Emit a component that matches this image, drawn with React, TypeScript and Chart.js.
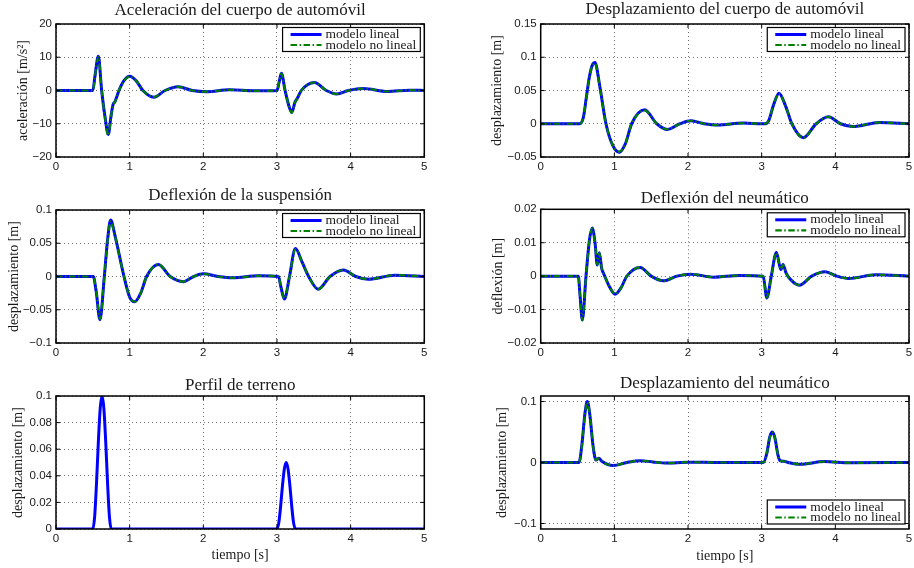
import React, { useEffect, useRef } from 'react';
import { Chart, registerables } from 'chart.js';

Chart.register(...registerables);

// ---------------- data ----------------
const X_TICKS = [0, 1, 2, 3, 4, 5];
const LEGEND_LABELS = ['modelo lineal', 'modelo no lineal'];

// Aceleración del cuerpo de automóvil [m/s²]
const ACC_T = [0, 0.5, 0.53, 0.575, 0.62, 0.665, 0.71, 0.745, 0.775, 0.8, 0.82, 0.855, 0.92, 1.0, 1.09, 1.18, 1.33, 1.48, 1.66, 1.85, 2.05, 2.35, 2.7, 3.0, 3.03, 3.06, 3.11, 3.16, 3.2, 3.245, 3.28, 3.33, 3.42, 3.51, 3.67, 3.81, 3.97, 4.17, 4.5, 4.8, 5.0];
const ACC_LIN = [0, 0, 4.5, 10.3, 0, -7.9, -13.2, -8, -4.2, -3.4, -2.2, 0, 2.9, 4.3, 2.9, 0, -2.0, 0, 1.1, 0, -0.35, 0.2, -0.1, 0, 2.6, 5.2, 0, -4.5, -6.6, -3.5, -2.2, 0, 1.8, 2.4, 0, -1.05, 0, 0.6, -0.3, 0.1, 0];
const ACC_NL = [0, 0, 4.4, 10.1, 0, -8.1, -13.5, -8.2, -4.3, -3.5, -2.3, 0, 2.8, 4.2, 2.9, 0, -2.0, 0, 1.1, 0, -0.35, 0.2, -0.1, 0, 2.6, 5.1, 0, -4.6, -6.7, -3.6, -2.3, 0, 1.8, 2.4, 0, -1.05, 0, 0.6, -0.3, 0.1, 0];
const ACC_TICKS = [-20, -10, 0, 10, 20];

// Desplazamiento del cuerpo de automóvil [m]
const BODY_T = [0, 0.53, 0.58, 0.62, 0.66, 0.7, 0.737, 0.8, 0.886, 0.98, 1.067, 1.15, 1.235, 1.41, 1.575, 1.72, 1.89, 2.04, 2.22, 2.4, 2.75, 3.0, 3.05, 3.1, 3.16, 3.235, 3.33, 3.41, 3.565, 3.74, 3.905, 4.07, 4.235, 4.6, 5.0];
const BODY_LIN = [0, 0, 0.01, 0.04, 0.07, 0.088, 0.092, 0.058, 0, -0.033, -0.043, -0.03, 0, 0.021, 0, -0.0085, 0, 0.0045, 0, -0.002, 0.001, 0, 0, 0.006, 0.028, 0.046, 0.025, 0, -0.021, 0, 0.0105, 0, -0.0042, 0.002, 0];
const BODY_NL = [0, 0, 0.01, 0.039, 0.069, 0.087, 0.091, 0.057, 0, -0.033, -0.042, -0.03, 0, 0.02, 0, -0.0085, 0, 0.0045, 0, -0.002, 0.001, 0, 0, 0.006, 0.028, 0.045, 0.025, 0, -0.021, 0, 0.0105, 0, -0.0042, 0.002, 0];
const BODY_TICKS = [-0.05, 0, 0.05, 0.1, 0.15];

// Deflexión de la suspensión [m]
const SUSP_T = [0, 0.506, 0.545, 0.597, 0.656, 0.7, 0.742, 0.8, 0.923, 1.0, 1.07, 1.15, 1.23, 1.39, 1.55, 1.73, 1.87, 2.0, 2.2, 2.4, 2.75, 3.02, 3.05, 3.1, 3.17, 3.25, 3.34, 3.43, 3.56, 3.72, 3.9, 4.07, 4.24, 4.6, 5.0];
const SUSP_LIN = [0, 0, -0.022, -0.065, 0, 0.055, 0.085, 0.062, 0, -0.031, -0.038, -0.025, 0, 0.018, 0, -0.0078, 0, 0.004, 0, -0.002, 0.001, 0, -0.014, -0.034, 0, 0.042, 0.022, 0, -0.019, 0, 0.0098, 0, -0.004, 0.002, 0];
const SUSP_NL = [0, 0, -0.021, -0.064, 0, 0.054, 0.083, 0.061, 0, -0.031, -0.038, -0.025, 0, 0.018, 0, -0.0078, 0, 0.004, 0, -0.002, 0.001, 0, -0.014, -0.033, 0, 0.041, 0.022, 0, -0.019, 0, 0.0098, 0, -0.004, 0.002, 0];
const SUSP_TICKS = [-0.1, -0.05, 0, 0.05, 0.1];

// Deflexión del neumático [m]
const TIRE_T = [0, 0.51, 0.535, 0.565, 0.615, 0.66, 0.7, 0.74, 0.768, 0.796, 0.828, 0.86, 0.93, 1.01, 1.09, 1.17, 1.35, 1.5, 1.665, 1.85, 2.03, 2.35, 2.7, 3.02, 3.07, 3.13, 3.2, 3.26, 3.29, 3.33, 3.4, 3.51, 3.68, 3.86, 4.02, 4.18, 4.55, 5.0];
const TIRE_LIN = [0, 0, -0.006, -0.0131, 0, 0.0105, 0.0144, 0.0095, 0.0033, 0.007, 0.0023, 0.0005, -0.003, -0.0054, -0.0035, 0, 0.0026, 0, -0.0014, 0, 0.0006, -0.0003, 0.0002, 0, -0.0065, 0, 0.0071, 0.002, 0.0035, 0.001, -0.0012, -0.0027, 0, 0.0013, 0, -0.0007, 0.0004, 0];
const TIRE_NL = [0, 0, -0.006, -0.0132, 0, 0.0104, 0.0143, 0.0094, 0.0034, 0.0068, 0.0024, 0.0005, -0.003, -0.0053, -0.0035, 0, 0.0026, 0, -0.0014, 0, 0.0006, -0.0003, 0.0002, 0, -0.0064, 0, 0.007, 0.0021, 0.0034, 0.001, -0.0012, -0.0027, 0, 0.0013, 0, -0.0007, 0.0004, 0];
const TIRE_TICKS = [-0.02, -0.01, 0, 0.01, 0.02];

// Perfil de terreno [m]
const ROAD_T = [0, 0.5, 0.525, 0.55, 0.575, 0.6, 0.625, 0.65, 0.675, 0.7, 0.725, 0.75, 3.0, 3.025, 3.05, 3.075, 3.1, 3.125, 3.15, 3.175, 3.2, 3.225, 3.25, 5.0];
const ROAD = [0, 0, 0.0095, 0.0345, 0.0655, 0.0905, 0.1, 0.0905, 0.0655, 0.0345, 0.0095, 0, 0, 0.0048, 0.0173, 0.0328, 0.0452, 0.05, 0.0452, 0.0328, 0.0173, 0.0048, 0, 0];
const ROAD_TICKS = [0, 0.02, 0.04, 0.06, 0.08, 0.1];

// Desplazamiento del neumático [m]
const TDISP_T = [0, 0.52, 0.56, 0.6, 0.633, 0.67, 0.71, 0.75, 0.79, 0.83, 0.985, 1.17, 1.35, 1.52, 1.7, 2.0, 2.4, 3.02, 3.07, 3.11, 3.145, 3.18, 3.22, 3.25, 3.3, 3.36, 3.52, 3.85, 4.2, 5.0];
const TDISP_LIN = [0, 0, 0.03, 0.08, 0.1, 0.075, 0.028, 0.004, 0.007, 0.002, -0.005, 0, 0.003, 0.001, -0.001, 0.0005, 0, 0, 0.015, 0.042, 0.05, 0.04, 0.013, 0.003, 0.002, 0, -0.003, 0.0015, -0.0005, 0];
const TDISP_NL = [0, 0, 0.029, 0.079, 0.099, 0.075, 0.028, 0.004, 0.007, 0.002, -0.005, 0, 0.003, 0.001, -0.001, 0.0005, 0, 0, 0.015, 0.041, 0.049, 0.04, 0.013, 0.003, 0.002, 0, -0.003, 0.0015, -0.0005, 0];
const TDISP_TICKS = [-0.1, 0, 0.1];

// ---------------- styles ----------------
const BLUE = '#0000ff';
const GREEN = '#008000';
const SERIF = '"Liberation Serif", "Times New Roman", serif';
const SANS = '"Liberation Sans", Arial, Helvetica, sans-serif';
const TEXT = '#1a1a1a';

type Series = { t: number[]; v: number[]; kind: 'lin' | 'nl' };
type PanelCfg = {
  title: string;
  yTitle: string;
  xTitle?: string;
  yMin: number;
  yMax: number;
  yTicks: number[];
  series: Series[];
  legend: 'ne' | 'se' | null;
  canvas: [number, number, number, number];
  plot: [number, number, number, number];
  titleBase: number;
  yTitleX: number;
  xTitleY?: number;
};

const PANELS: PanelCfg[] = [
  {
    title: 'Aceleración del cuerpo de automóvil',
    yTitle: 'aceleración [m/s²]',
    yMin: -20, yMax: 20, yTicks: ACC_TICKS,
    series: [{ t: ACC_T, v: ACC_LIN, kind: 'lin' }, { t: ACC_T, v: ACC_NL, kind: 'nl' }],
    legend: 'ne',
    canvas: [0, 0, 457, 180], plot: [56, 24, 424.3, 157],
    titleBase: 14.5, yTitleX: 23,
  },
  {
    title: 'Desplazamiento del cuerpo de automóvil',
    yTitle: 'desplazamiento [m]',
    yMin: -0.05, yMax: 0.15, yTicks: BODY_TICKS,
    series: [{ t: BODY_T, v: BODY_LIN, kind: 'lin' }, { t: BODY_T, v: BODY_NL, kind: 'nl' }],
    legend: 'ne',
    canvas: [457, 0, 457, 180], plot: [540.7, 24, 909, 157],
    titleBase: 14, yTitleX: 497,
  },
  {
    title: 'Deflexión de la suspensión',
    yTitle: 'desplazamiento [m]',
    yMin: -0.1, yMax: 0.1, yTicks: SUSP_TICKS,
    series: [{ t: SUSP_T, v: SUSP_LIN, kind: 'lin' }, { t: SUSP_T, v: SUSP_NL, kind: 'nl' }],
    legend: 'ne',
    canvas: [0, 180, 457, 186], plot: [56, 210, 424.3, 343],
    titleBase: 199.5, yTitleX: 14,
  },
  {
    title: 'Deflexión del neumático',
    yTitle: 'deflexión [m]',
    yMin: -0.02, yMax: 0.02, yTicks: TIRE_TICKS,
    series: [{ t: TIRE_T, v: TIRE_LIN, kind: 'lin' }, { t: TIRE_T, v: TIRE_NL, kind: 'nl' }],
    legend: 'ne',
    canvas: [457, 180, 457, 186], plot: [540.7, 209.3, 909, 343],
    titleBase: 202.5, yTitleX: 498,
  },
  {
    title: 'Perfil de terreno',
    yTitle: 'desplazamiento [m]',
    xTitle: 'tiempo [s]',
    yMin: 0, yMax: 0.1, yTicks: ROAD_TICKS,
    series: [{ t: ROAD_T, v: ROAD, kind: 'lin' }],
    legend: null,
    canvas: [0, 366, 457, 202], plot: [56, 396, 424.3, 529],
    titleBase: 389.5, yTitleX: 18, xTitleY: 555,
  },
  {
    title: 'Desplazamiento del neumático',
    yTitle: 'desplazamiento [m]',
    xTitle: 'tiempo [s]',
    yMin: -0.109, yMax: 0.109, yTicks: TDISP_TICKS,
    series: [{ t: TDISP_T, v: TDISP_LIN, kind: 'lin' }, { t: TDISP_T, v: TDISP_NL, kind: 'nl' }],
    legend: 'se',
    canvas: [457, 366, 457, 202], plot: [540.7, 396, 909, 529],
    titleBase: 387.5, yTitleX: 502, xTitleY: 556,
  },
];

const fmt = (v: number) => (v < 0 ? '\u2212' + String(-v) : String(v));

const decor = {
  id: 'decor',
  afterDatasetsDraw(chart: any, _args: any, opts: any) {
    const { ctx, chartArea: ca, scales } = chart;
    const xs = scales.x;
    const ys = scales.y;
    ctx.save();
    ctx.strokeStyle = '#000';
    ctx.lineWidth = 1;
    ctx.setLineDash([]);
    ctx.beginPath();
    for (const v of X_TICKS) {
      const px = xs.getPixelForValue(v);
      ctx.moveTo(px, ca.bottom);
      ctx.lineTo(px, ca.bottom - 4);
      ctx.moveTo(px, ca.top);
      ctx.lineTo(px, ca.top + 4);
    }
    for (const v of opts.yTicks) {
      const py = ys.getPixelForValue(v);
      ctx.moveTo(ca.left, py);
      ctx.lineTo(ca.left + 4, py);
      ctx.moveTo(ca.right, py);
      ctx.lineTo(ca.right - 4, py);
    }
    ctx.stroke();
    ctx.lineWidth = 1.5;
    ctx.strokeRect(ca.left, ca.top, ca.right - ca.left, ca.bottom - ca.top);

    if (opts.legend) {
      ctx.font = `13.5px ${SERIF}`;
      const tw = Math.max(...LEGEND_LABELS.map((l) => ctx.measureText(l).width));
      const w = 43 + tw + 4;
      const h = 24;
      const x = ca.right - 4 - w;
      const y = opts.legend === 'ne' ? ca.top + 3.5 : ca.bottom - 5 - h;
      ctx.fillStyle = '#fff';
      ctx.fillRect(x, y, w, h);
      ctx.lineWidth = 1.2;
      ctx.strokeStyle = '#000';
      ctx.strokeRect(x, y, w, h);
      const r1 = y + 7;
      const r2 = y + 17.5;
      ctx.beginPath();
      ctx.strokeStyle = BLUE;
      ctx.lineWidth = 3;
      ctx.moveTo(x + 8, r1);
      ctx.lineTo(x + 39, r1);
      ctx.stroke();
      ctx.beginPath();
      ctx.strokeStyle = GREEN;
      ctx.lineWidth = 2.2;
      ctx.setLineDash([6.5, 2.5, 1.5, 2.5]);
      ctx.moveTo(x + 8, r2);
      ctx.lineTo(x + 39, r2);
      ctx.stroke();
      ctx.setLineDash([]);
      ctx.fillStyle = TEXT;
      ctx.textAlign = 'left';
      ctx.textBaseline = 'middle';
      ctx.fillText(LEGEND_LABELS[0], x + 43, r1);
      ctx.fillText(LEGEND_LABELS[1], x + 43, r2);
    }

    ctx.font = `17px ${SERIF}`;
    ctx.fillStyle = TEXT;
    ctx.textAlign = 'center';
    ctx.textBaseline = 'alphabetic';
    ctx.fillText(opts.title, (ca.left + ca.right) / 2, opts.titleBase);
    ctx.restore();
  },
};

function Panel({ cfg }: { cfg: PanelCfg }) {
  const ref = useRef<HTMLCanvasElement>(null);
  useEffect(() => {
    const [cl, ct, cw, ch] = cfg.canvas;
    const [pl, pt, pr, pb] = cfg.plot;
    const titleFontSize = 14;
    const lh = titleFontSize * 1.2;
    const datasets = cfg.series.map((s) => ({
      data: s.t.map((x, i) => ({ x, y: s.v[i] })),
      borderColor: s.kind === 'lin' ? BLUE : GREEN,
      backgroundColor: s.kind === 'lin' ? BLUE : GREEN,
      borderWidth: s.kind === 'lin' ? 3 : 2.2,
      borderDash: s.kind === 'lin' ? [] : [6.5, 2.5, 1.5, 2.5],
      pointRadius: 0,
      cubicInterpolationMode: 'monotone' as const,
      fill: false,
      order: s.kind === 'lin' ? 1 : 0,
    }));
    const gridCommon = {
      color: 'rgba(0,0,0,0.55)',
      lineWidth: 1,
      drawTicks: false,
      drawOnChartArea: true,
    };
    const chart = new Chart(ref.current as HTMLCanvasElement, {
      type: 'line',
      data: { datasets } as any,
      plugins: [decor as any],
      options: {
        animation: false,
        responsive: false,
        devicePixelRatio: 1,
        events: [],
        layout: { padding: { left: 0, top: pt - ct, right: cl + cw - pr, bottom: 0 } },
        plugins: {
          legend: { display: false },
          tooltip: { enabled: false },
          decor: { title: cfg.title, titleBase: cfg.titleBase - ct, legend: cfg.legend, yTicks: cfg.yTicks },
        } as any,
        scales: {
          x: {
            type: 'linear',
            min: 0,
            max: 5,
            afterBuildTicks: (s: any) => {
              s.ticks = X_TICKS.map((value) => ({ value }));
            },
            afterFit: (s: any) => {
              s.height = ct + ch - pb;
              s.paddingLeft = 0;
              s.paddingRight = 0;
            },
            grid: gridCommon,
            border: { display: false, dash: [1, 3] },
            ticks: {
              autoSkip: false,
              maxRotation: 0,
              padding: 3,
              color: TEXT,
              font: { family: SANS, size: 11.5 },
              callback: (v: any) => fmt(Number(v)),
            },
            title: cfg.xTitle
              ? {
                  display: true,
                  text: cfg.xTitle,
                  color: TEXT,
                  font: { family: SERIF, size: titleFontSize },
                  padding: { top: 0, bottom: ct + ch - (cfg.xTitleY as number) - lh / 2 },
                }
              : { display: false },
          },
          y: {
            type: 'linear',
            min: cfg.yMin,
            max: cfg.yMax,
            afterBuildTicks: (s: any) => {
              s.ticks = cfg.yTicks.map((value) => ({ value }));
            },
            afterFit: (s: any) => {
              s.width = pl - cl;
              s.paddingTop = 0;
              s.paddingBottom = 0;
            },
            grid: gridCommon,
            border: { display: false, dash: [1, 3] },
            ticks: {
              autoSkip: false,
              padding: 4,
              color: TEXT,
              font: { family: SANS, size: 11.5 },
              callback: (v: any) => fmt(Number(v)),
            },
            title: {
              display: true,
              text: cfg.yTitle,
              color: TEXT,
              font: { family: SERIF, size: titleFontSize },
              padding: { top: cfg.yTitleX - cl - lh / 2, bottom: 0 },
            },
          },
        } as any,
      },
    });
    return () => chart.destroy();
  }, [cfg]);
  const [l, t, w, h] = cfg.canvas;
  return (
    <canvas
      ref={ref}
      width={w}
      height={h}
      style={{ position: 'absolute', left: l, top: t, width: w, height: h, display: 'block' }}
    />
  );
}

export default function App() {
  return (
    <div style={{ position: 'absolute', left: 0, top: 0, width: 914, height: 568, background: '#fff', overflow: 'hidden' }}>
      {PANELS.map((p, i) => (
        <Panel key={i} cfg={p} />
      ))}
    </div>
  );
}
